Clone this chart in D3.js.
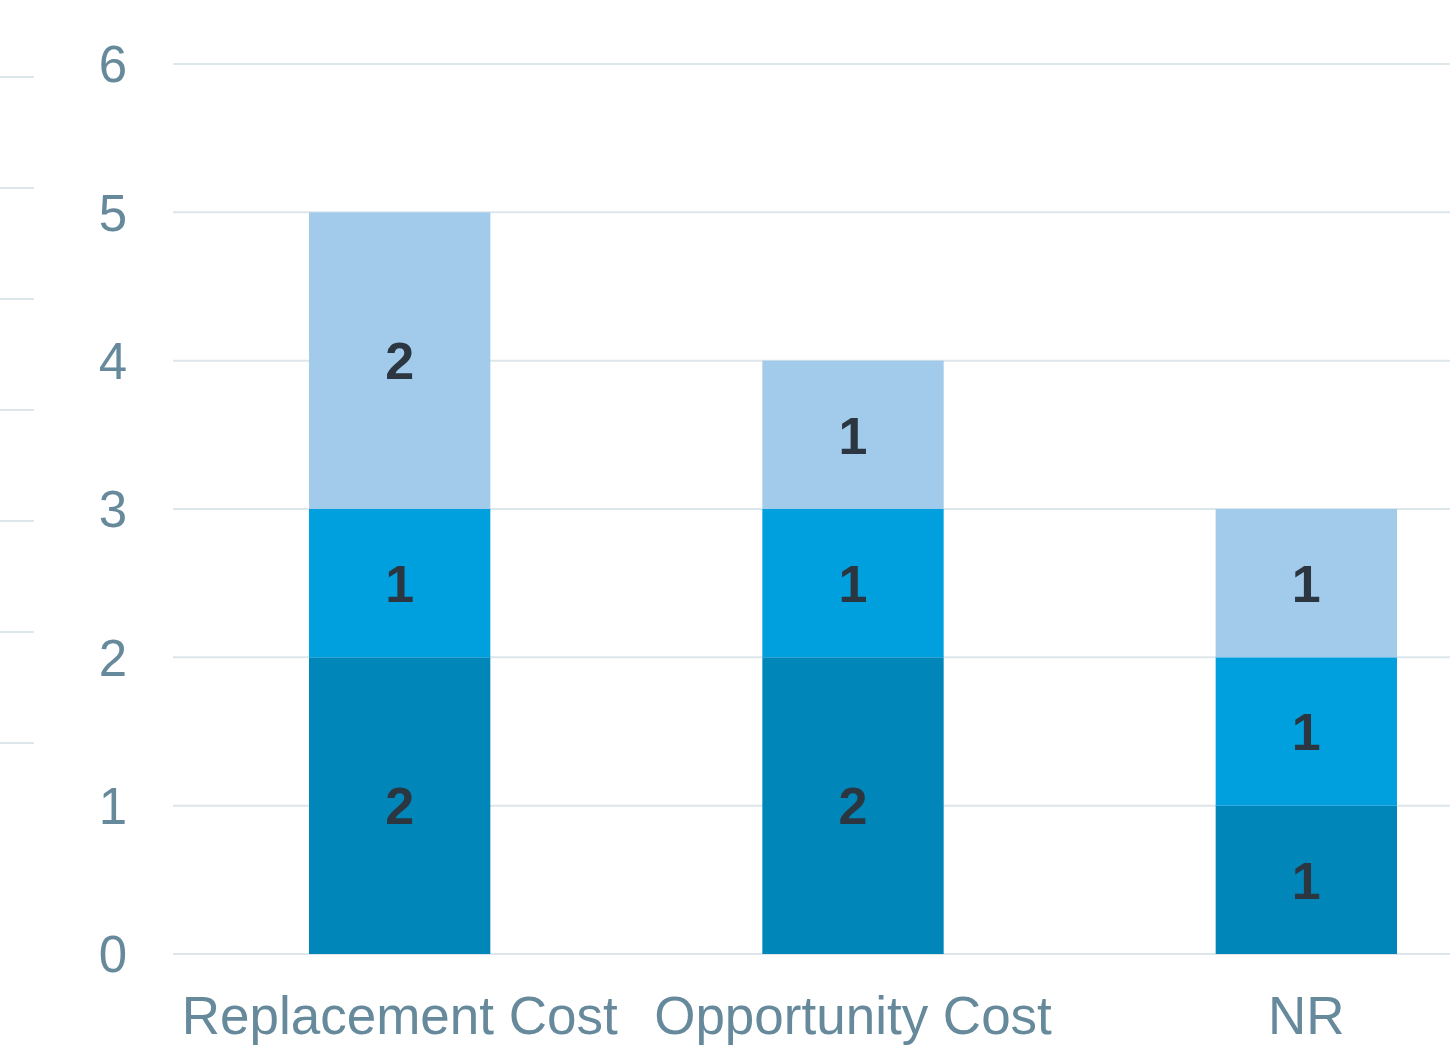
<!DOCTYPE html>
<html>
<head>
<meta charset="utf-8">
<script src="https://cdn.jsdelivr.net/npm/d3@7"></script>
<style>
  html, body { margin: 0; padding: 0; background: #fff; }
  svg { display: block; }
</style>
</head>
<body>
<div id="chart"></div>
<script>
const categories = ["Replacement Cost", "Opportunity Cost", "NR"];
const seriesBottom = [2, 2, 1];
const seriesMiddle = [1, 1, 1];
const seriesTop = [2, 1, 1];
const yTicks = [0, 1, 2, 3, 4, 5, 6];
const sideTicks = [0, 1, 2, 3, 4, 5, 6];

const colors = ["#0086b9", "#00a0df", "#a2caeb"];
const width = 1450, height = 1045;

const svg = d3.select("#chart").append("svg")
  .attr("width", width)
  .attr("height", height);

// y scale
const y = d3.scaleLinear().domain([0, 6]).range([954, 64]);
// x bands extend past right edge (clipped in the source)
const x = d3.scaleBand().domain(categories).range([173, 1533])
  .paddingInner(0.6).paddingOuter(0.3);

// little stray ticks at far left
const side = d3.scaleLinear().domain([0, 6]).range([743, 77]);
svg.append("g").selectAll("line")
  .data(sideTicks).enter().append("line")
  .attr("x1", 0).attr("x2", 34)
  .attr("y1", (d) => side(d)).attr("y2", (d) => side(d))
  .attr("stroke", "#dde6eb").attr("stroke-width", 2);

// gridlines
svg.append("g").selectAll("line")
  .data(yTicks).enter().append("line")
  .attr("x1", 173).attr("x2", width)
  .attr("y1", (d) => y(d)).attr("y2", (d) => y(d))
  .attr("stroke", "#dde6eb").attr("stroke-width", 2);

// y labels
svg.append("g").selectAll("text")
  .data(yTicks).enter().append("text")
  .attr("x", 127)
  .attr("y", (d) => y(d))
  .attr("dy", "0.36em")
  .attr("text-anchor", "end")
  .attr("font-family", "Liberation Sans, Arial, sans-serif")
  .attr("font-size", 51)
  .attr("fill", "#668a9c")
  .text((d) => d);

const table = categories.map((c, i) => ({
  cat: c, bottom: seriesBottom[i], middle: seriesMiddle[i], top: seriesTop[i]
}));
const stack = d3.stack().keys(["bottom", "middle", "top"]);
const layers = stack(table);

const g = svg.selectAll(".layer")
  .data(layers).enter().append("g")
  .attr("fill", (d, i) => colors[i]);

g.selectAll("rect")
  .data((d) => d).enter().append("rect")
  .attr("x", (d) => x(d.data.cat))
  .attr("width", x.bandwidth())
  .attr("y", (d) => y(d[1]))
  .attr("height", (d) => y(d[0]) - y(d[1]));

g.selectAll("text")
  .data((d) => d).enter().append("text")
  .attr("x", (d) => x(d.data.cat) + x.bandwidth() / 2)
  .attr("y", (d) => (y(d[0]) + y(d[1])) / 2)
  .attr("dy", "0.36em")
  .attr("text-anchor", "middle")
  .attr("font-family", "Liberation Sans, Arial, sans-serif")
  .attr("font-weight", "bold")
  .attr("font-size", 52)
  .attr("fill", "#2b3640")
  .text((d) => d[1] - d[0]);

// category labels
svg.append("g").selectAll("text")
  .data(categories).enter().append("text")
  .attr("x", (d) => x(d) + x.bandwidth() / 2)
  .attr("y", 1034)
  .attr("text-anchor", "middle")
  .attr("font-family", "Liberation Sans, Arial, sans-serif")
  .attr("font-size", 53)
  .attr("fill", "#668a9c")
  .text((d) => d);
</script>
</body>
</html>
